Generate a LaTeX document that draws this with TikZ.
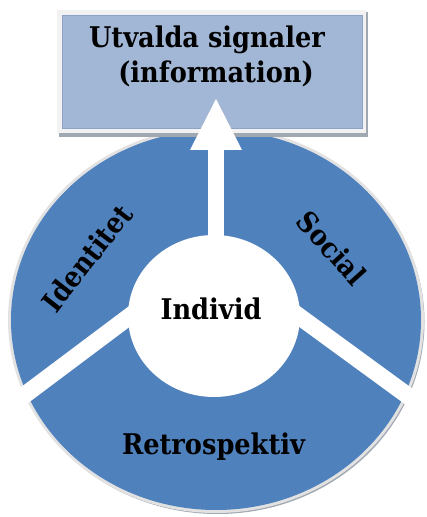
\documentclass[tikz,border=0pt]{standalone}
\usepackage{fontspec}
\setmainfont{DejaVu Serif Condensed}
\definecolor{ringblue}{RGB}{79,129,189}
\definecolor{boxfill}{RGB}{162,183,213}
\definecolor{boxline}{RGB}{140,162,198}
\definecolor{framecol}{RGB}{242,242,242}
\definecolor{shadowcol}{RGB}{160,168,178}
\definecolor{rimcol}{RGB}{226,226,226}
\begin{document}
\begin{tikzpicture}[x=1pt,y=1pt,
  lbl/.style={font=\fontsize{28.5}{34}\selectfont\bfseries, inner sep=0pt},
  gap/.style={white, line width=17pt}]
\useasboundingbox (0,0) rectangle (426,517);
% ring with rim and shadow
\fill[shadowcol] (217.5,195) ellipse [x radius=207, y radius=192];
\fill[rimcol] (216,197) ellipse [x radius=208, y radius=193];
\fill[ringblue] (216,197) ellipse [x radius=205, y radius=190];
% white gaps between sectors
\coordinate (lgapA) at (150,216);
\coordinate (lgapB) at (-5,99.75);
\coordinate (rgapA) at (280,214.6);
\coordinate (rgapB) at (432,103.6);
\draw[gap] (lgapA) -- (lgapB);
\draw[gap] (rgapA) -- (rgapB);
% inner white disc
\fill[white] (214,201) ellipse [x radius=86, y radius=81];
% box
\fill[shadowcol] (59,380) rectangle (368,505);
\fill[framecol] (57,384) rectangle (366,507);
\filldraw[fill=boxfill, draw=boxline, line width=0.8pt] (62,389) rectangle (362,502);
% arrow
\fill[white] (208,250) rectangle (224,368);
\fill[white] (190,367) -- (242,367) -- (216,418) -- cycle;
% labels
\node[lbl, anchor=base] (title1) at (207,469) {Utvalda signaler};
\node[lbl, anchor=base] (title2) at (216,434) {(information)};
\node[lbl, anchor=base] (individ) at (211,197) {Individ};
\node[lbl, anchor=base] (retro) at (213.5,62) {Retrospektiv};
\node[lbl, rotate=52] (ident) at (87,259) {Identitet};
\node[lbl, rotate=-48] (social) at (332,269) {Social};
\end{tikzpicture}
\end{document}
